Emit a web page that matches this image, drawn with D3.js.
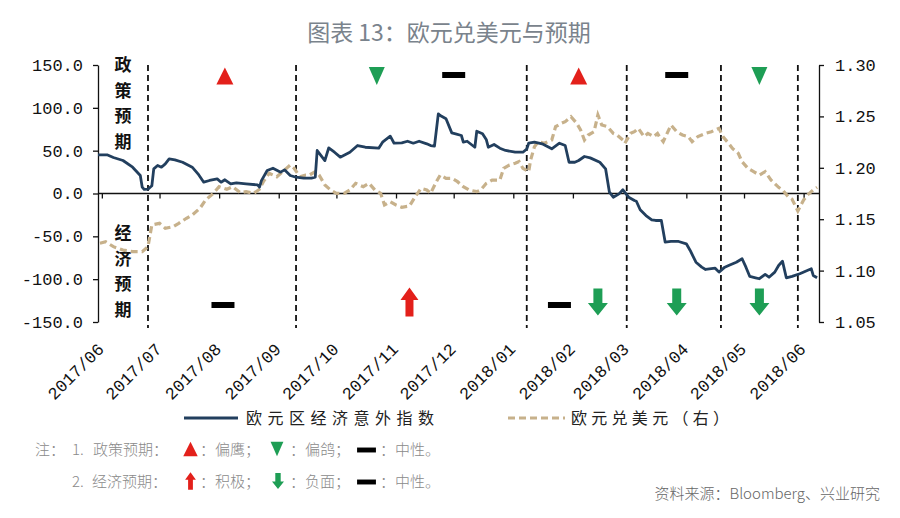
<!DOCTYPE html>
<html><head><meta charset="utf-8">
<script src="https://cdn.jsdelivr.net/npm/d3@7"></script>
<style>html,body{margin:0;padding:0;background:#fff;}svg{display:block;}</style>
</head><body>
<svg id="c" width="900" height="518"></svg>
<script>
// ---------- DATA ----------
const title = "图表 13：欧元兑美元与预期";
const seriesNames = ["欧元区经济意外指数", "欧元兑美元（右）"];
const monthLabels = ["2017/06","2017/07","2017/08","2017/09","2017/10","2017/11","2017/12","2018/01","2018/02","2018/03","2018/04","2018/05","2018/06"];
const leftTicks = [150, 100, 50, 0, -50, -100, -150];
const rightTicks = [1.30, 1.25, 1.20, 1.15, 1.10, 1.05];
const dateRange = ["2017-05-30", "2018-06-09"];
const meetingDates = ["2017-06-25", "2017-09-10", "2018-01-08", "2018-03-01", "2018-04-19", "2018-05-29"];
const policyMarks = [["2017-08-04","hawk"],["2017-10-22","dove"],["2017-12-01","neutral"],["2018-02-04","hawk"],["2018-03-27","neutral"],["2018-05-09","dove"]];
const econMarks = [["2017-08-03","neutral"],["2017-11-08","up"],["2018-01-25","neutral"],["2018-02-14","down"],["2018-03-27","down"],["2018-05-09","down"]];
const surprise = [
["2017-05-30",45],["2017-06-04",45],["2017-06-07",42],["2017-06-12",38.5],["2017-06-17",30.7],["2017-06-21",21],["2017-06-22",7.4],["2017-06-23",4.7],["2017-06-25",5],["2017-06-27",9],["2017-06-28",28.8],["2017-06-30",32.7],
["2017-07-02",30.7],["2017-07-04",34.6],["2017-07-06",40.5],["2017-07-09",39.3],["2017-07-13",36.5],["2017-07-18",30.7],["2017-07-21",23],["2017-07-24",13.2],["2017-07-27",15.2],["2017-07-31",17.1],
["2017-08-02",13.2],["2017-08-04",16],["2017-08-07",11.3],["2017-08-10",12.5],["2017-08-15",11.3],["2017-08-21",10],["2017-08-22",7.4],["2017-08-23",15],["2017-08-26",26.8],["2017-08-29",29.5],
["2017-09-02",24.9],["2017-09-04",27.6],["2017-09-07",21],["2017-09-10",19],["2017-09-14",18],["2017-09-18",17.9],["2017-09-20",19],["2017-09-21",50.2],["2017-09-23",44.3],["2017-09-25",38.5],["2017-09-27",53.3],["2017-09-30",48.2],
["2017-10-03",42.4],["2017-10-08",48.2],["2017-10-12",56],["2017-10-16",54],["2017-10-23",52.9],["2017-10-25",59.9],["2017-10-29",66.9],["2017-10-31",58.7],
["2017-11-04",59],["2017-11-07",61],["2017-11-10",58.7],["2017-11-13",61],["2017-11-17",58],["2017-11-19",56],["2017-11-21",55.4],["2017-11-23",93],["2017-11-24",91],["2017-11-27",87.2],["2017-11-30",70.8],
["2017-12-02",69.7],["2017-12-05",67.7],["2017-12-06",59.9],["2017-12-08",61],["2017-12-12",54],["2017-12-13",72.7],["2017-12-16",69.7],["2017-12-18",62.7],["2017-12-19",54],["2017-12-22",57.2],["2017-12-25",52.9],["2017-12-28",50.2],
["2018-01-02",48.2],["2018-01-06",48.2],["2018-01-08",52],["2018-01-09",58.7],["2018-01-12",59.9],["2018-01-16",58],["2018-01-21",52.2],["2018-01-25",58.7],["2018-01-28",56],["2018-01-30",36.5],
["2018-02-02",36.5],["2018-02-04",38.5],["2018-02-07",43.2],["2018-02-10",41.6],["2018-02-15",36.5],["2018-02-18",28.8],["2018-02-20",1.5],["2018-02-22",-4.3],["2018-02-25",-0.4],["2018-02-27",4.3],
["2018-03-02",-4.3],["2018-03-05",-8.2],["2018-03-06",-9],["2018-03-08",-19],["2018-03-11",-25.7],["2018-03-14",-30.7],["2018-03-16",-31.5],["2018-03-19",-31.5],["2018-03-21",-56.8],["2018-03-24",-56],["2018-03-28",-56],
["2018-04-01",-58.7],["2018-04-03",-66.5],["2018-04-06",-80.2],["2018-04-09",-86],["2018-04-11",-88.7],["2018-04-16",-87.2],["2018-04-18",-91.8],["2018-04-21",-86],["2018-04-23",-84],["2018-04-27",-80.2],["2018-04-30",-76.2],
["2018-05-02",-86],["2018-05-04",-96.8],["2018-05-07",-98.4],["2018-05-09",-99.5],["2018-05-12",-94.5],["2018-05-14",-97.7],["2018-05-17",-91.8],["2018-05-19",-84],["2018-05-21",-79],["2018-05-23",-98.4],["2018-05-26",-96.8],["2018-05-30",-93.7],
["2018-06-02",-90.7],["2018-06-05",-87.9],["2018-06-06",-95.7],["2018-06-08",-98.4]
];
const eurusd = [
["2017-05-31",1.1266],["2017-06-03",1.128],["2017-06-07",1.1233],["2017-06-12",1.12],["2017-06-17",1.1184],["2017-06-22",1.1184],["2017-06-25",1.1233],["2017-06-27",1.1444],
["2017-07-01",1.146],["2017-07-04",1.1411],["2017-07-08",1.1427],["2017-07-11",1.146],["2017-07-15",1.1509],["2017-07-18",1.1541],["2017-07-22",1.1606],["2017-07-25",1.1687],["2017-07-29",1.1752],
["2017-08-01",1.1816],["2017-08-05",1.1791],["2017-08-08",1.1816],["2017-08-12",1.1758],["2017-08-15",1.1768],["2017-08-19",1.1752],["2017-08-22",1.1791],["2017-08-24",1.1865],["2017-08-27",1.1947],["2017-08-31",1.1913],
["2017-09-03",1.1962],["2017-09-07",1.2027],["2017-09-09",1.1995],["2017-09-12",1.1913],["2017-09-15",1.193],["2017-09-17",1.193],["2017-09-20",1.1962],["2017-09-22",1.193],["2017-09-25",1.1833],["2017-09-28",1.1784],
["2017-10-01",1.1752],["2017-10-05",1.1752],["2017-10-08",1.1784],["2017-10-11",1.1849],["2017-10-15",1.1816],["2017-10-18",1.1849],["2017-10-21",1.1784],["2017-10-24",1.1752],["2017-10-26",1.1638],["2017-10-29",1.167],
["2017-11-01",1.1638],["2017-11-04",1.1616],["2017-11-08",1.1628],["2017-11-11",1.1719],["2017-11-14",1.18],["2017-11-17",1.1784],["2017-11-19",1.1752],["2017-11-22",1.1865],["2017-11-24",1.193],["2017-11-27",1.1898],["2017-11-30",1.1898],
["2017-12-03",1.1865],["2017-12-06",1.1816],["2017-12-09",1.1784],["2017-12-13",1.1768],["2017-12-15",1.1784],["2017-12-18",1.1849],["2017-12-21",1.1881],["2017-12-25",1.1881],["2017-12-27",1.1995],["2017-12-30",1.2027],
["2018-01-02",1.2044],["2018-01-04",1.206],["2018-01-06",1.1995],["2018-01-09",1.1962],["2018-01-10",1.2076],["2018-01-12",1.2205],["2018-01-14",1.2254],["2018-01-17",1.2238],["2018-01-21",1.227],["2018-01-23",1.24],["2018-01-26",1.2433],["2018-01-28",1.2449],["2018-01-31",1.2497],
["2018-02-03",1.2433],["2018-02-05",1.2368],["2018-02-07",1.227],["2018-02-09",1.2319],["2018-02-12",1.2351],["2018-02-14",1.2514],["2018-02-16",1.2416],["2018-02-19",1.24],["2018-02-22",1.2335],["2018-02-24",1.2319],["2018-02-27",1.227],["2018-02-28",1.2238],
["2018-03-03",1.2335],["2018-03-05",1.2351],["2018-03-07",1.2384],["2018-03-10",1.2303],["2018-03-12",1.2335],["2018-03-15",1.2303],["2018-03-17",1.2335],["2018-03-18",1.2303],["2018-03-20",1.2254],["2018-03-22",1.2335],["2018-03-24",1.2416],["2018-03-27",1.2351],["2018-03-30",1.2319],
["2018-04-02",1.2303],["2018-04-04",1.2254],["2018-04-07",1.2303],["2018-04-11",1.2335],["2018-04-14",1.2351],["2018-04-18",1.2384],["2018-04-20",1.2303],["2018-04-23",1.2238],["2018-04-25",1.2189],["2018-04-28",1.2141],["2018-04-30",1.2059],
["2018-05-03",1.1995],["2018-05-06",1.1962],["2018-05-09",1.193],["2018-05-12",1.1962],["2018-05-15",1.1881],["2018-05-19",1.181],["2018-05-21",1.1784],["2018-05-24",1.1719],["2018-05-26",1.1694],["2018-05-29",1.158],
["2018-06-01",1.1687],["2018-06-03",1.1735],["2018-06-06",1.1784],["2018-06-08",1.181]
];
const notes1 = ["注：", "1.", "政策预期：", "：偏鹰；", "：偏鸽；", "：中性。"];
const notes2 = ["2.", "经济预期：", "：积极；", "：负面；", "：中性。"];
const source = "资料来源：Bloomberg、兴业研究";
const sideTop = "政策预期";
const sideBottom = "经济预期";

// ---------- DRAW ----------
const parse = d3.timeParse("%Y-%m-%d");
const svg = d3.select("#c");
const L = 98, R = 819, T = 65, B = 322;
const x = d3.scaleTime().domain(dateRange.map(parse)).range([L, R]);
const yL = d3.scaleLinear().domain([-150, 150]).range([B, T]);
const yR = d3.scaleLinear().domain([1.05, 1.30]).range([B, T]);
const monthDates = monthLabels.map(s => parse(s.replace("/", "-") + "-01"));

const RED = "#e3201b", GREEN = "#1e9e55", BLUE = "#223f5e", TAN = "#c7b18b";
const CJK = "'Noto Sans CJK SC', sans-serif";
const MONO = "'Liberation Mono', monospace";

// title
svg.append("text").attr("x", 449).attr("y", 41).attr("text-anchor", "middle")
  .attr("font-family", CJK).attr("font-size", 23).attr("fill", "#7a838c").text(title);

// left axis
const gL = svg.append("g").attr("transform", `translate(${L},0)`)
  .call(d3.axisLeft(yL).tickValues(leftTicks).tickFormat(d => d3.format(".1f")(d).replace("−", "-")).tickSize(5).tickPadding(10).tickSizeOuter(0));
gL.selectAll("text").attr("font-family", MONO).attr("font-size", 17).attr("fill", "#111");
gL.selectAll("line,path").attr("stroke", "#111").attr("stroke-width", 1.3);

// right axis
const gR = svg.append("g").attr("transform", `translate(${R},0)`)
  .call(d3.axisRight(yR).tickValues(rightTicks).tickFormat(d3.format(".2f")).tickSize(5).tickPadding(11).tickSizeOuter(0));
gR.selectAll("text").attr("font-family", MONO).attr("font-size", 17).attr("fill", "#111");
gR.selectAll("line,path").attr("stroke", "#111").attr("stroke-width", 1.3);

// zero line with month ticks
const gX = svg.append("g").attr("transform", `translate(0,${yL(0)})`)
  .call(d3.axisBottom(x).tickValues(monthDates).tickFormat("").tickSize(5).tickSizeOuter(0));
gX.select(".domain").remove();
gX.selectAll("line").attr("stroke", "#111").attr("stroke-width", 1.3);
svg.append("line").attr("x1", L).attr("x2", R).attr("y1", yL(0)).attr("y2", yL(0))
  .attr("stroke", "#111").attr("stroke-width", 1.5);

// month labels
svg.append("g").selectAll("text").data(monthLabels).join("text")
  .attr("transform", (d, i) => `translate(${x(monthDates[i]) - 1},346) rotate(-45)`)
  .attr("text-anchor", "end").attr("dy", "0.35em")
  .attr("font-family", MONO).attr("font-size", 17).attr("fill", "#111").text(d => d);

// meeting dashed lines
svg.append("g").selectAll("line").data(meetingDates).join("line")
  .attr("x1", d => x(parse(d))).attr("x2", d => x(parse(d)))
  .attr("y1", T).attr("y2", B + 6)
  .attr("stroke", "#111").attr("stroke-width", 1.8).attr("stroke-dasharray", "6,4");

// side labels
[[sideTop, 65], [sideBottom, 233]].forEach(([s, y0]) => {
  svg.append("g").selectAll("text").data(Array.from(s)).join("text")
    .attr("x", 123).attr("y", (d, i) => y0 + i * 25.5).attr("dy", "0.36em")
    .attr("text-anchor", "middle").attr("font-family", CJK).attr("font-weight", 700)
    .attr("font-size", 17).attr("fill", "#111").text(d => d);
});

// lines
svg.append("path").datum(eurusd)
  .attr("d", d3.line().x(d => x(parse(d[0]))).y(d => yR(d[1])))
  .attr("fill", "none").attr("stroke", TAN).attr("stroke-width", 3.2).attr("stroke-dasharray", "7,4");
svg.append("path").datum(surprise)
  .attr("d", d3.line().x(d => x(parse(d[0]))).y(d => yL(d[1])))
  .attr("fill", "none").attr("stroke", BLUE).attr("stroke-width", 2.8).attr("stroke-linejoin", "round");

// marker shapes
const shapes = {
  hawk: { d: "M0,-8.5L8.5,8.5L-8.5,8.5Z", fill: RED },
  dove: { d: "M0,9L8,-9L-8,-9Z", fill: GREEN },
  neutral: { d: "M-11.5,-3L11.5,-3L11.5,3L-11.5,3Z", fill: "#000" },
  up: { d: "M0,-14.5L9,-2L4,-2L4,14.5L-4,14.5L-4,-2L-9,-2Z", fill: RED },
  down: { d: "M0,13.5L10,1L4.5,1L4.5,-13.5L-4.5,-13.5L-4.5,1L-10,1Z", fill: GREEN }
};
function drawMarks(arr, rowY) {
  svg.append("g").selectAll("path").data(arr).join("path")
    .attr("transform", d => `translate(${x(parse(d[0]))},${d[1] === "neutral" ? rowY + (rowY > 200 ? 3 : -1) : rowY})`)
    .attr("d", d => shapes[d[1]].d).attr("fill", d => shapes[d[1]].fill);
}
drawMarks(policyMarks, 76);
drawMarks(econMarks, 302);

// legend
svg.append("line").attr("x1", 184).attr("x2", 238).attr("y1", 418).attr("y2", 418)
  .attr("stroke", BLUE).attr("stroke-width", 3);
svg.append("text").attr("x", 246).attr("y", 424).attr("font-family", CJK).attr("font-size", 16)
  .attr("textLength", 188).attr("lengthAdjust", "spacing").attr("fill", "#222").text(seriesNames[0]);
svg.append("line").attr("x1", 508).attr("x2", 565).attr("y1", 418).attr("y2", 418)
  .attr("stroke", TAN).attr("stroke-width", 3).attr("stroke-dasharray", "7,4");
svg.append("text").attr("x", 571).attr("y", 424).attr("font-family", CJK).attr("font-size", 16)
  .attr("textLength", 158).attr("lengthAdjust", "spacing").attr("fill", "#222").text(seriesNames[1]);

// notes
const NOTE = "#8a8a8a";
function note(t, xx, yy) {
  svg.append("text").attr("x", xx).attr("y", yy).attr("font-family", CJK).attr("font-size", 15)
    .attr("font-weight", 300).attr("fill", NOTE).text(t);
}
const y1 = 455, y2 = 487;
note(notes1[0], 35, y1); note(notes1[1], 72, y1); note(notes1[2], 93, y1);
note(notes1[3], 200, y1); note(notes1[4], 290, y1); note(notes1[5], 380, y1);
note(notes2[0], 72, y2); note(notes2[1], 92, y2);
note(notes2[2], 200, y2); note(notes2[3], 290, y2); note(notes2[4], 380, y2);
function legendMark(type, cx, cy, s) {
  svg.append("path").attr("transform", `translate(${cx},${cy}) scale(${s})`)
    .attr("d", shapes[type].d).attr("fill", shapes[type].fill);
}
legendMark("hawk", 190.5, 449, 0.85);
legendMark("dove", 277, 449, 0.8);
legendMark("neutral", 366.5, 450, 0.82);
legendMark("up", 190.5, 481, 0.6);
legendMark("down", 278, 481, 0.6);
legendMark("neutral", 366.5, 482, 0.82);

// source
svg.append("text").attr("x", 880).attr("y", 499).attr("text-anchor", "end")
  .attr("font-family", CJK).attr("font-size", 15).attr("font-weight", 300).attr("fill", "#666").text(source);
</script>
</body></html>
